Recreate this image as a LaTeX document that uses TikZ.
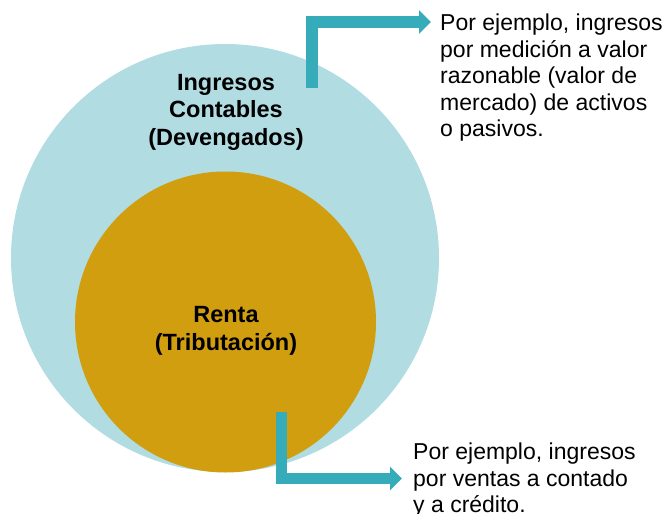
\documentclass[tikz,border=0pt]{standalone}
\usepackage{fontspec}
\setmainfont{Liberation Sans}
\usetikzlibrary{arrows.meta}
\definecolor{lightblue}{RGB}{176,220,226}
\definecolor{gold}{RGB}{208,158,14}
\definecolor{teal}{RGB}{54,171,185}
\begin{document}
\begin{tikzpicture}[x=1pt,y=-1pt,
  disc/.style={circle,inner sep=0pt,draw=none},
  bigtext/.style={font=\fontsize{23.5}{27.5}\selectfont\bfseries,align=center,inner sep=0pt},
  note/.style={font=\fontsize{23}{26.5}\selectfont,align=left,inner sep=0pt,anchor=north west},
  pointer/.style={draw=teal,line width=11.5pt,line join=miter,line cap=butt,
    -{Triangle[length=12pt,width=23pt]}}]
\useasboundingbox (0,0) rectangle (667,514);
\node[disc,fill=lightblue,minimum size=428pt] (big) at (225,258) {};
\node[disc,fill=gold,minimum size=301pt] (small) at (225.5,322) {};
\node[bigtext] (lblbig) at (226,112) {Ingresos\\Contables\\(Devengados)};
\node[bigtext] (lblsmall) at (226,331) {Renta\\(Tributación)};
\node[note] (t1) at (440,14) {Por ejemplo, ingresos\\por medición a valor\\razonable (valor de\\mercado) de activos\\o pasivos.};
\node[note] (t2) at (413,443) {Por ejemplo, ingresos\\por ventas a contado\\y a crédito.};
\coordinate (s1) at (312,88);
\coordinate (e1) at (431,22);
\coordinate (s2) at (281.5,412);
\coordinate (e2) at (402,478.5);
\draw[pointer] (s1) |- (e1);
\draw[pointer] (s2) |- (e2);
\end{tikzpicture}
\end{document}
